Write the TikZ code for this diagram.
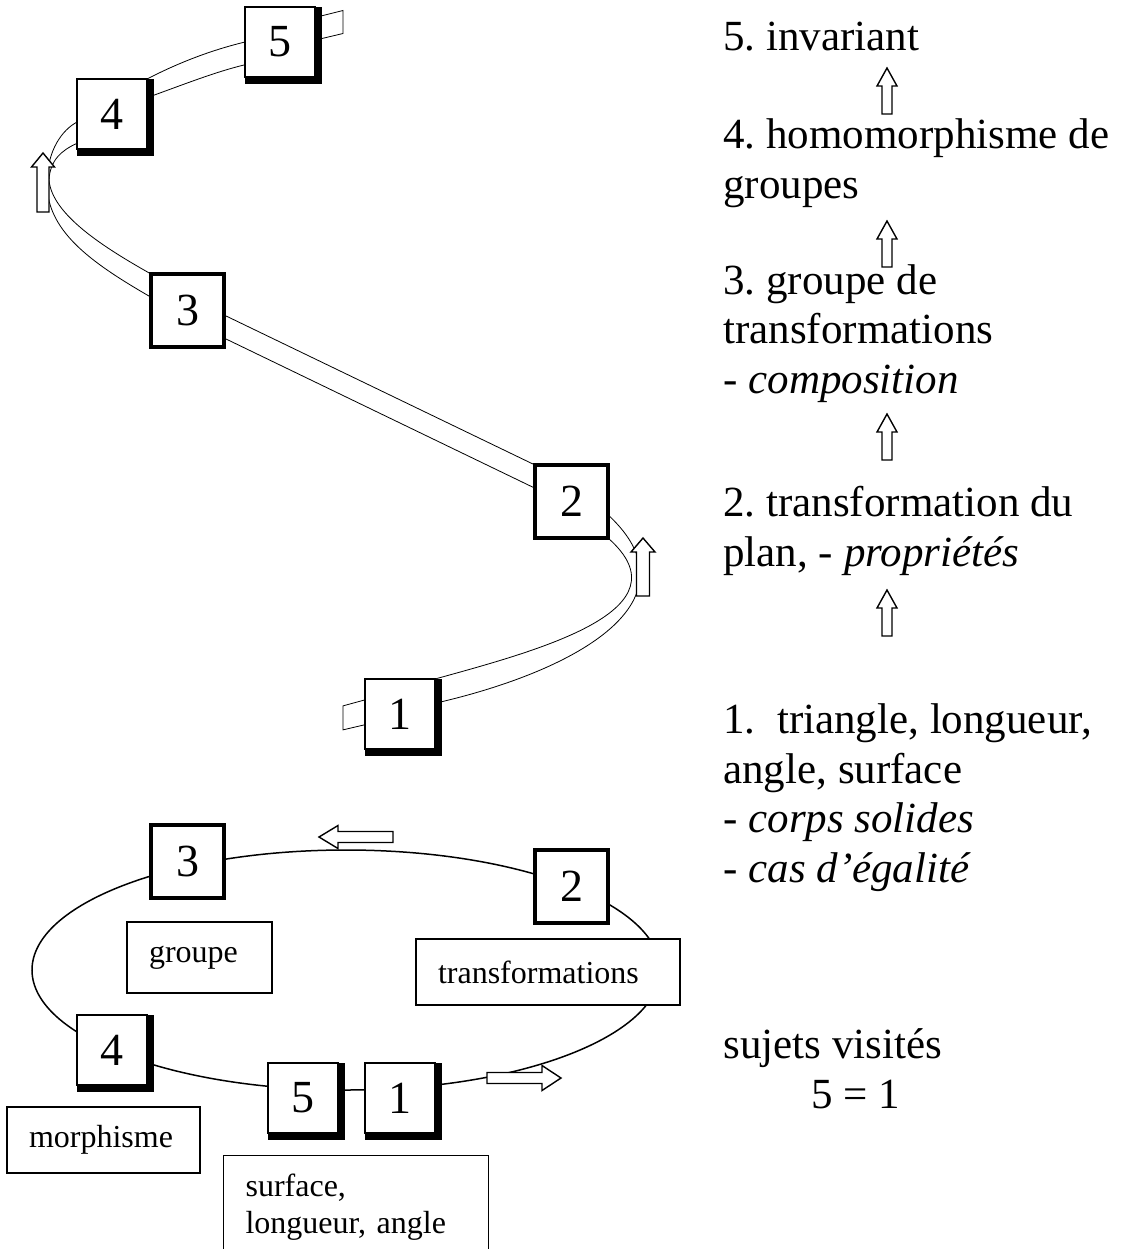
\documentclass[tikz,border=0pt]{standalone}
\usepackage{fontspec}
\setmainfont{Liberation Serif}
\usetikzlibrary{backgrounds}

% hollow block arrow: tip, rotation, length, head length, half head, half shaft
\newcommand{\hollowarrow}[6]{%
  \draw[fill=white, line width=0.7pt, shift={#1}, rotate=#2]
    (0,0) -- (-#4,#5) -- (-#4,#6) -- (-#3,#6) -- (-#3,-#6) -- (-#4,-#6) -- (-#4,-#5) -- cycle;}

\begin{document}
\frenchspacing
\begin{tikzpicture}[x=0.5pt, y=-0.5pt,
    numbox/.style={draw, fill=white, line width=0.85pt, minimum size=35pt, inner sep=0pt, outer sep=0pt,
      font=\fontsize{23}{27}\selectfont},
    thickbox/.style={numbox, line width=2pt, minimum size=36.5pt},
    band/.style={line width=0.75pt},
    coltext/.style={anchor=base west, align=left, inner sep=0pt, font=\fontsize{21.5}{24.7}\selectfont},
    lbox/.style={draw, fill=white, line width=0.6pt, inner xsep=11pt, align=left,
      font=\fontsize{16}{18.5}\selectfont}]

\useasboundingbox (0,0) rectangle (1122,1249);

% the twisted band
\node[numbox] (t5) at (280,42) {5};
\node[numbox] (t4) at (112,114) {4};
\node[thickbox] (t3) at (187.5,310.5) {3};
\node[thickbox] (t2) at (571.5,501.5) {2};
\node[numbox] (t1) at (400,714) {1};

\begin{scope}[on background layer, band]
    \draw[fill=white] (t1.158) -- ++(-22,6) -- ++(0,24) -- (t1.197) -- cycle;
    \draw (t1.north east) .. controls (540,650) and (690,610) .. (t2.south east);
    \draw (t1.17) .. controls (580,670) and (700,600) .. (t2.-20);

    \draw (t2.north west) -- (t3.-7);
    \draw (t2.160) -- (t3.-37);

    \draw (t3.north west) .. controls (105,248) and (52,215) .. (49,180)
        .. controls (50,160) and (62,150) .. (t4.220);
    \draw (t3.160) .. controls (90,262) and (45,230) .. (47,180)
        .. controls (48,150) and (62,130) .. (t4.193);

    \draw (t4.north east) .. controls (180,62) and (212,50) .. (t5.west);
    \draw (t4.25) .. controls (185,84) and (215,72) .. (t5.213);
    \draw[fill=white] (t5.35) -- ++(28,-7) -- ++(0,23) -- (t5.3) -- cycle;
\end{scope}

% the cycle
\node[thickbox] (b3) at (187.5,861.5) {3};
\node[thickbox] (b2) at (571.5,886.5) {2};
\node[numbox] (b4) at (112,1050) {4};
\node[numbox] (b5) at (303,1098) {5};
\node[numbox] (b1) at (400,1098) {1};

\begin{scope}[on background layer]
    \draw[band] (346,970) ellipse [x radius=314, y radius=120];
\end{scope}

\node[lbox, text width=50.5pt, minimum height=35.5pt] (groupe) at (199.5,957.5) {groupe};
\node[lbox, text width=110pt, minimum height=33pt] (transf) at (548,972) {transformations};
\node[lbox, text width=74.5pt, minimum height=33pt] (morph) at (103.5,1140) {morphisme};
\node[lbox, text width=110.5pt, anchor=north west, inner ysep=9pt] (surf) at (223,1155)
    {surface,\\longueur, angle};

\foreach \bx in {t5,t4,t1,b4,b5,b1}
    \draw[line width=3.5pt] ([xshift=1.75pt]\bx.north east) -- ([xshift=1.75pt,yshift=-1.75pt]\bx.south east)
        -- ([yshift=-1.75pt]\bx.south west);

\hollowarrow{(43,153)}{90}{59}{14}{11.5}{6}
\hollowarrow{(643,538)}{90}{58}{14}{12}{6.5}
\hollowarrow{(319,837)}{180}{74}{19}{11.5}{5.5}
\hollowarrow{(561,1078)}{0}{74}{19}{12.5}{5.5}

% the steps (anchored on the last line)
\node[coltext] (c5) at (723,50) {5. invariant};
\node[coltext] (c4) at (723,198) {4. homomorphisme de\\groupes};
\node[coltext] (c3) at (723,393) {3. groupe de\\transformations\\- \textit{composition}};
\node[coltext] (c2) at (723,566) {2. transformation du\\plan, - \textit{propriétés}};
\node[coltext] (c1) at (723,882) {1.~ triangle, longueur,\\angle, surface\\- \textit{corps solides}\\- \textit{cas d’égalité}};
\node[coltext] (cs) at (723,1108) {sujets visités\\\hspace*{44pt}5 = 1};

\foreach \ty in {68,221,414,590} {
    \hollowarrow{(887,\ty)}{90}{46}{18}{10}{5}
}

\end{tikzpicture}
\end{document}
